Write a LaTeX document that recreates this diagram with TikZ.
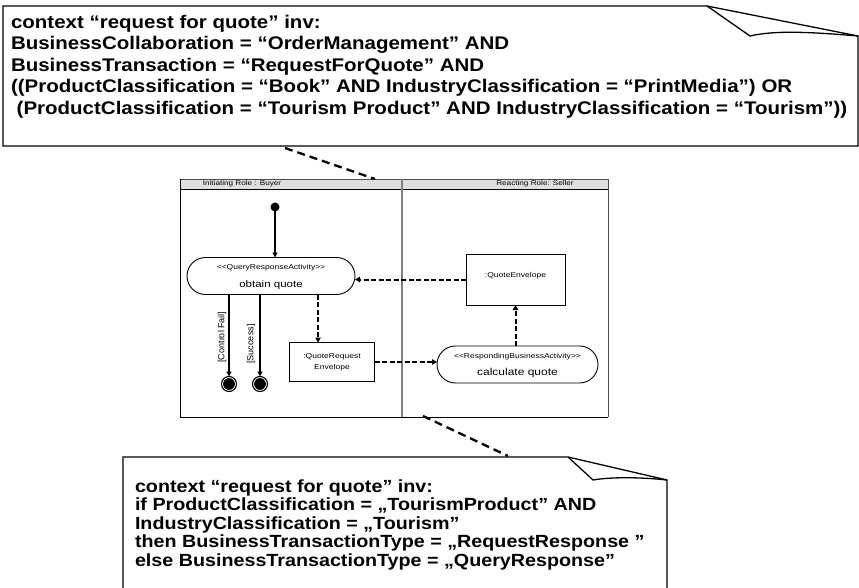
\documentclass[tikz,border=0pt]{standalone}
\usepackage{fontspec}
\setmainfont{Liberation Sans}
\newfontfamily\sw[FakeStretch=1.12]{Liberation Sans}
\newfontfamily\swd[FakeStretch=1.2]{Liberation Sans}
\usetikzlibrary{arrows.meta}
\begin{document}
\begin{tikzpicture}[x=1pt,y=-1pt,
  every node/.style={inner sep=0pt, outer sep=0pt},
  act/.style={draw, line width=0.9pt, rounded corners=18.5pt, minimum height=37pt},
  objbox/.style={draw, line width=0.8pt},
  ctrl/.style={line width=1.7pt, -{Triangle[length=5pt,width=5pt]}},
  flow/.style={line width=2pt, dash pattern=on 5pt off 2.5pt, -{Triangle[length=5pt,width=5.5pt]}},
  anchorline/.style={line width=2.3pt, dash pattern=on 8pt off 5pt},
  notebox/.style={line width=1.3pt, line join=miter},
  notetop/.style={anchor=base west, font=\sw\bfseries\fontsize{18.3}{20}\selectfont},
  notebot/.style={anchor=base west, font=\sw\bfseries\fontsize{17.6}{18}\selectfont},
  small/.style={font=\swd\fontsize{7.1}{8}\selectfont},
]
\clip (0,0) rectangle (859,588);

% ---- upper OCL note ----
\draw[notebox] (707,6) -- (3,6) -- (3,146) -- (858,146) -- (858,36) -- cycle;
\draw[notebox] (707,6) -- (750,36) .. controls (772,31) and (800,31) .. (858,36);
\node[notetop] (n1a) at (11,28.5) {context “request for quote” inv:};
\node[notetop] (n1b) at (11,50) {BusinessCollaboration = “OrderManagement” AND};
\node[notetop] (n1c) at (11,71.5) {BusinessTransaction = “RequestForQuote” AND};
\node[notetop] (n1d) at (11,93) {((ProductClassification = “Book” AND IndustryClassification = “PrintMedia”) OR};
\node[notetop] (n1e) at (11,114.5) {\ (ProductClassification = “Tourism Product” AND IndustryClassification = “Tourism”))};

% ---- swimlanes ----
\fill[gray!25] (180,179) rectangle (608,189);
\draw[gray!60!black, line width=0.9pt] (180,179) -- (608,179) -- (608,417);
\draw[line width=0.9pt] (180,179) -- (180,417) -- (608,417);
\draw[line width=0.9pt] (180,189) -- (608,189);
\draw[gray, line width=1.1pt] (402,179) -- (402,417);
\node[font=\swd\fontsize{6.8}{8}\selectfont] (lane1) at (242,184) {Initiating Role : Buyer};
\node[font=\swd\fontsize{6.8}{8}\selectfont] (lane2) at (535,184) {Reacting Role: Seller};

% ---- activities and objects ----
\node[circle, fill, minimum size=9pt] (init) at (275,207) {};
\node[act, minimum width=168pt] (obtain) at (271,276) {};
\node[small] (obtainS) at (271,268) {<{}<QueryResponseActivity>{}>};
\node[font=\swd\fontsize{9.6}{10}\selectfont] (obtainT) at (271,285) {obtain quote};

\node[objbox, minimum width=85pt, minimum height=39pt] (qre) at (332,362) {};
\node[small] (qreA) at (332,357) {:QuoteRequest};
\node[small] (qreB) at (332,368) {Envelope};

\node[act, minimum width=161pt] (calc) at (517.5,364.5) {};
\node[small] (calcS) at (517.5,357) {<{}<RespondingBusinessActivity>{}>};
\node[font=\swd\fontsize{10}{10}\selectfont] (calcT) at (517.5,373) {calculate quote};

\node[objbox, minimum width=99pt, minimum height=51pt] (qe) at (515.5,279.5) {};
\node[small] (qeT) at (515.5,276) {:QuoteEnvelope};

\node[circle, draw, line width=1.1pt, minimum size=15pt] (fin1) at (229,384) {};
\fill (fin1) circle (5.9pt);
\node[circle, draw, line width=1.1pt, minimum size=15pt] (fin2) at (260,384) {};
\fill (fin2) circle (5.9pt);

\node[rotate=90, font=\fontsize{9}{10}\selectfont] (lblCF) at (222,337) {[Control Fail]};
\node[rotate=90, font=\fontsize{9}{10}\selectfont] (lblS) at (251,344) {[Success]};

% ---- flows ----
\draw[ctrl] (init.south) -- (init.south |- obtain.north);
\draw[ctrl] (fin1.north |- obtain.south) -- (fin1.north);
\draw[ctrl] (fin2.north |- obtain.south) -- (fin2.north);
\draw[flow] ([xshift=-14pt]qre.north |- obtain.south) -- ([xshift=-14pt]qre.north);
\draw[flow] (qre.east) -- (qre.east -| calc.west);
\draw[flow] (qe.south |- calc.north) -- (qe.south);
\draw[flow] (qe.west) -- (qe.west -| obtain.east);

% ---- note anchors ----
\coordinate (a1) at (285,148);
\coordinate (a2) at (375,179);
\draw[anchorline] (a1) -- (a2);
\coordinate (b1) at (423,416);
\coordinate (b2) at (508,456);
\draw[anchorline] (b1) -- (b2);

% ---- lower OCL note ----
\draw[notebox] (123,600) -- (123,457) -- (568,457) -- (667,480) -- (667,600);
\draw[notebox] (568,457) -- (593,480) .. controls (610,477) and (640,477) .. (667,480);
\node[notebot] (n2a) at (135,492) {context “request for quote” inv:};
\node[notebot] (n2b) at (135,510.5) {if ProductClassification = „TourismProduct” AND};
\node[notebot] (n2c) at (135,529) {IndustryClassification = „Tourism”};
\node[notebot] (n2d) at (135,547.5) {then BusinessTransactionType = „RequestResponse ”};
\node[notebot] (n2e) at (135,566) {else BusinessTransactionType = „QueryResponse”};
\end{tikzpicture}
\end{document}
